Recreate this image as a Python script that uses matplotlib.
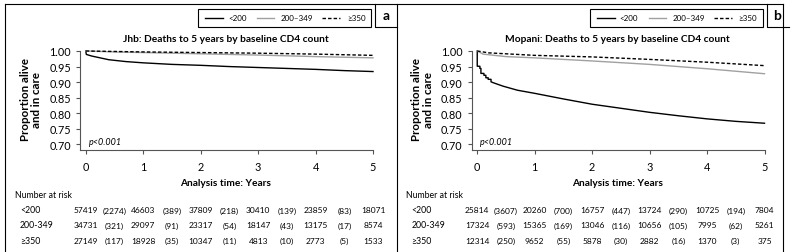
import matplotlib.pyplot as plt
import matplotlib.transforms as mtransforms
from matplotlib.lines import Line2D
from matplotlib.patches import Rectangle

plt.rcParams['font.family'] = ['Lato', 'DejaVu Sans']

W, H = 793, 253

# --- Jhb curves ---
jhb_t_lt200 = [0, 0.01, 0.1, 0.2, 0.4, 0.7, 1, 1.5, 2, 2.5, 3, 3.5, 4, 4.5, 5]
jhb_s_lt200 = [1.0, 0.989, 0.984, 0.980, 0.972, 0.966, 0.962, 0.957, 0.954, 0.950, 0.947, 0.944, 0.941, 0.937, 0.934]
jhb_t_mid = [0, 0.5, 1, 2, 3, 4, 5]
jhb_s_mid = [1.0, 0.997, 0.995, 0.991, 0.987, 0.982, 0.978]
jhb_t_hi = [0, 1, 2, 3, 4, 5]
jhb_s_hi = [1.0, 0.997, 0.995, 0.993, 0.990, 0.986]

# --- Mopani curves ---
mop_t_lt200 = [0, 0, 0.046, 0.046, 0.064, 0.064, 0.116, 0.116, 0.15, 0.15, 0.19, 0.19, 0.24, 0.24,
               0.28, 0.45, 0.7, 1, 1.5, 2, 2.5, 3, 3.5, 4, 4.5, 5]
mop_s_lt200 = [1.0, 0.951, 0.951, 0.944, 0.944, 0.928, 0.928, 0.922, 0.922, 0.914, 0.914, 0.909, 0.909, 0.901,
               0.898, 0.887, 0.874, 0.864, 0.846, 0.829, 0.816, 0.803, 0.792, 0.782, 0.774, 0.768]
mop_t_mid = [0, 0.1, 0.5, 1, 2, 3, 4, 5]
mop_s_mid = [1.0, 0.990, 0.982, 0.978, 0.968, 0.957, 0.943, 0.927]
mop_t_hi = [0, 0.2, 1, 2, 3, 4, 5]
mop_s_hi = [1.0, 0.994, 0.986, 0.981, 0.973, 0.964, 0.953]

# --- number at risk (censored in brackets) ---
groups = ['<200', '200-349', '≥350']
jhb_n_lt200 = [57419, 46603, 37809, 30410, 23859, 18071]
jhb_c_lt200 = [2274, 389, 218, 139, 83]
jhb_n_mid = [34731, 29097, 23317, 18147, 13175, 8574]
jhb_c_mid = [321, 91, 54, 43, 17]
jhb_n_hi = [27149, 18928, 10347, 4813, 2773, 1533]
jhb_c_hi = [117, 35, 11, 10, 5]

mop_n_lt200 = [25814, 20260, 16757, 13724, 10725, 7804]
mop_c_lt200 = [3607, 700, 447, 290, 194]
mop_n_mid = [17324, 15365, 13046, 10656, 7995, 5261]
mop_c_mid = [593, 169, 116, 105, 62]
mop_n_hi = [12314, 9652, 5878, 2882, 1370, 375]
mop_c_hi = [250, 55, 30, 16, 3]

xticks = [0, 1, 2, 3, 4, 5]
yticks = [0.70, 0.75, 0.80, 0.85, 0.90, 0.95, 1.00]

GREY = '#a0a0a0'
AXC = '#555555'

fig = plt.figure(figsize=(W / 100, H / 100), dpi=100)


def fx(x):
    return x / W


def fy(y):
    return 1 - y / H


def panel(x0, letter, title, curves, risk):
    # x0: pixel position of the y spine
    ax = fig.add_axes([fx(x0), fy(151), fx(293), (151 - 52) / H])
    styles = [dict(color='black', lw=1.0, ls='-'),
              dict(color=GREY, lw=1.0, ls='-'),
              dict(color='black', lw=1.0, ls=(0, (2.5, 1.5)))]
    for (t, s), st in zip(curves, styles):
        ax.plot(t, s, clip_on=False, **st)
    ax.set_xlim(-0.1, 5)
    ax.set_ylim(0.682, 1.0)
    ax.set_xticks(xticks)
    ax.set_yticks(yticks)
    ax.set_yticklabels([f'{v:.2f}' for v in yticks])
    for sp in ['top', 'right']:
        ax.spines[sp].set_visible(False)
    for sp in ['left', 'bottom']:
        ax.spines[sp].set_color(AXC)
        ax.spines[sp].set_linewidth(0.8)
    ax.spines['bottom'].set_bounds(-0.1, 5)
    ax.tick_params(axis='both', colors=AXC, labelcolor='black', labelsize=7.8, length=3, width=0.8)
    ax.tick_params(axis='x', pad=5)
    ax.text(0.03, 0.06, 'p<0.001', transform=ax.transAxes, fontsize=6.5, style='italic')

    ox = x0 - 80
    cx = x0 + 146
    fig.text(fx(cx), fy(40), title, ha='center', va='center', fontsize=7.3, fontweight='bold')
    fig.text(fx(ox + 31), fy(100), 'Proportion alive\nand in care', ha='center', va='center',
             rotation=90, fontsize=8.3, fontweight='bold', linespacing=1.1)
    fig.text(fx(cx), fy(183), 'Analysis time: Years', ha='center', va='center', fontsize=7.3,
             fontweight='bold')

    # legend box
    fig.add_artist(Rectangle((fx(ox + 198), fy(28)), fx(173), 18 / H, fill=False, ec='black', lw=0.8))
    leg = [(205, 223, 228, '<200', styles[0]),
           (257, 274, 281, '200–349', styles[1]),
           (322, 340, 347, '≥350', styles[2])]
    for a, b, tx, lab, st in leg:
        fig.add_artist(Line2D([fx(ox + a), fx(ox + b)], [fy(18.5), fy(18.5)], **st))
        fig.text(fx(ox + tx), fy(18.5), lab, ha='left', va='center', fontsize=5.8)

    # letter box
    fig.add_artist(Line2D([fx(ox + 375), fx(ox + 375), fx(ox + 397)], [fy(5), fy(28), fy(28)],
                          color='black', lw=0.8))
    fig.text(fx(ox + 386), fy(16), letter, ha='center', va='center', fontsize=10, fontweight='bold')

    # number at risk table
    fig.text(fx(ox + 15), fy(196), 'Number at risk', ha='left', va='center', fontsize=6.3)
    trans = mtransforms.blended_transform_factory(ax.transData, fig.transFigure)
    for row, (g, (ns, cs)) in enumerate(zip(groups, risk)):
        yy = fy(211 + 15 * row)
        fig.text(fx(ox + 20), yy, g, ha='left', va='center', fontsize=6.3)
        for i, n in enumerate(ns):
            ax.text(i, yy, str(n), transform=trans, ha='center', va='center', fontsize=6)
        for i, c in enumerate(cs):
            ax.text(i + 0.5, yy, f'({c})', transform=trans, ha='center', va='center', fontsize=6)
    return ax


panel(80, 'a', 'Jhb: Deaths to 5 years by baseline CD4 count',
      [(jhb_t_lt200, jhb_s_lt200), (jhb_t_mid, jhb_s_mid), (jhb_t_hi, jhb_s_hi)],
      [(jhb_n_lt200, jhb_c_lt200), (jhb_n_mid, jhb_c_mid), (jhb_n_hi, jhb_c_hi)])
panel(471.5, 'b', 'Mopani: Deaths to 5 years by baseline CD4 count',
      [(mop_t_lt200, mop_s_lt200), (mop_t_mid, mop_s_mid), (mop_t_hi, mop_s_hi)],
      [(mop_n_lt200, mop_c_lt200), (mop_n_mid, mop_c_mid), (mop_n_hi, mop_c_hi)])

# outer frame and divider
for xs, ys in [([5, 783], [5, 5]), ([5, 5], [5, 253]), ([397, 397], [5, 253]), ([783, 783], [5, 253])]:
    fig.add_artist(Line2D([fx(v) for v in xs], [fy(v) for v in ys], color='black', lw=0.8))

fig.savefig('out.png', dpi=100)
